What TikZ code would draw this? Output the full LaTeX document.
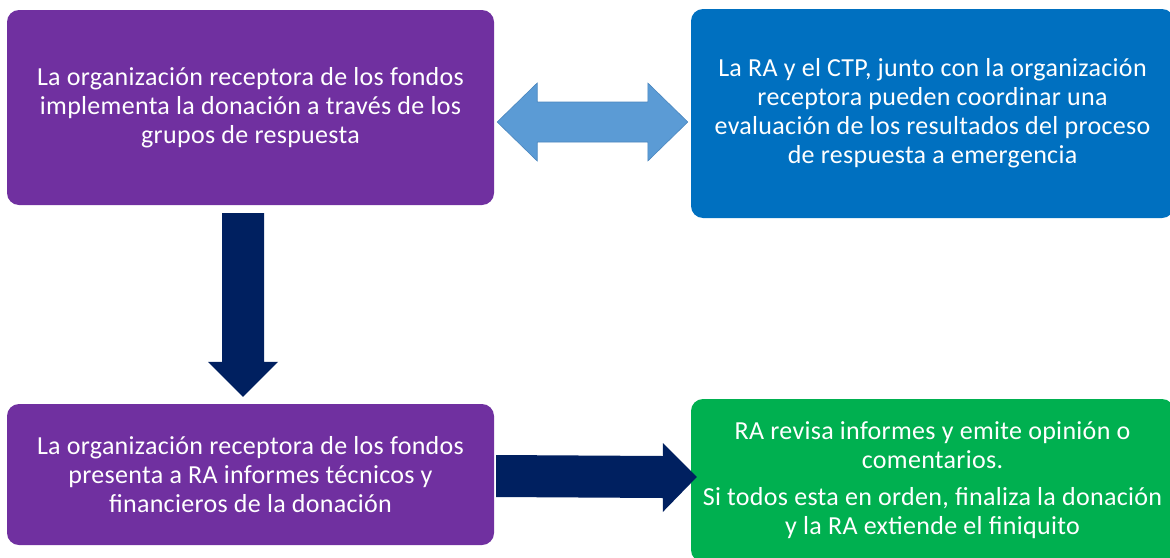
\documentclass[tikz,border=0pt]{standalone}
\usepackage{fontspec}
\setmainfont{Carlito}[LetterSpace=1.2]
\usetikzlibrary{calc}
\definecolor{cpurple}{HTML}{7030A0}
\definecolor{cblue}{HTML}{0070C0}
\definecolor{clight}{HTML}{5B9BD5}
\definecolor{cledge}{HTML}{4A86BE}
\definecolor{cnavy}{HTML}{002060}
\definecolor{cgreen}{HTML}{00B050}
\tikzset{
  box/.style={rectangle, rounded corners=12pt, text=white, align=center, inner sep=0pt,
    font=\fontsize{26}{29}\selectfont},
  fatarrow/.style={fill=cnavy, draw=none},
  dblarrow/.style={fill=clight, draw=cledge, line width=0.6pt, line join=miter},
}
\begin{document}
\begin{tikzpicture}[x=1pt,y=-1pt]
\useasboundingbox[fill=white] (0,0) rectangle (1170,557);
\node[box, fill=cpurple, minimum width=487pt, minimum height=195pt] (b1) at (250.5,107.5)
  {La organización receptora de los fondos\\implementa la donación a través de los\\grupos de respuesta};
\node[box, fill=cblue, minimum width=483pt, minimum height=209pt] (b2) at (932.5,113.5)
  {La RA y el CTP, junto con la organización\\receptora pueden coordinar una\\evaluación de los resultados del proceso\\de respuesta a emergencia};
\node[box, fill=cpurple, minimum width=487pt, minimum height=141pt] (b3) at (250.5,474.5)
  {La organización receptora de los fondos\\presenta a RA informes técnicos y\\financieros de la donación};
\node[box, fill=cgreen, minimum width=483pt, minimum height=163pt] (b4) at (932.5,480.5)
  {RA revisa informes y emite opinión o\\comentarios.\\[8pt]Si todos esta en orden, finaliza la donación\\y la RA extiende el finiquito};
% double arrow between b1 and b2
\coordinate (dL) at ($(b1.east)+(3,14.5)$);
\coordinate (dR) at ($(b2.west)+(-3,8.5)$);
\draw[dblarrow] (dL) -- ($(dL)+(40,-39)$) -- ($(dL)+(40,-20)$) -- ($(dR)+(-40,-20)$)
  -- ($(dR)+(-40,-39)$) -- (dR) -- ($(dR)+(-40,39)$) -- ($(dR)+(-40,20)$)
  -- ($(dL)+(40,20)$) -- ($(dL)+(40,39)$) -- cycle;
% down arrow b1 -> b3
\coordinate (dS) at ($(b1.south)+(-7.5,8)$);
\coordinate (dT) at ($(b3.north)+(-7.5,-7)$);
\fill[fatarrow] ($(dS)+(-21,0)$) -- ($(dS)+(21,0)$) -- ($(dT)+(21,-35)$) -- ($(dT)+(35,-35)$)
  -- (dT) -- ($(dT)+(-35,-35)$) -- ($(dT)+(-21,-35)$) -- cycle;
% right arrow b3 -> b4
\coordinate (rS) at ($(b3.east)+(2,1.5)$);
\coordinate (rT) at ($(b4.west)+(6,-3.5)$);
\fill[fatarrow] ($(rS)+(0,-21)$) -- ($(rT)+(-34,-21)$) -- ($(rT)+(-34,-34)$) -- (rT)
  -- ($(rT)+(-34,35)$) -- ($(rT)+(-34,21)$) -- ($(rS)+(0,21)$) -- cycle;
\end{tikzpicture}
\end{document}
